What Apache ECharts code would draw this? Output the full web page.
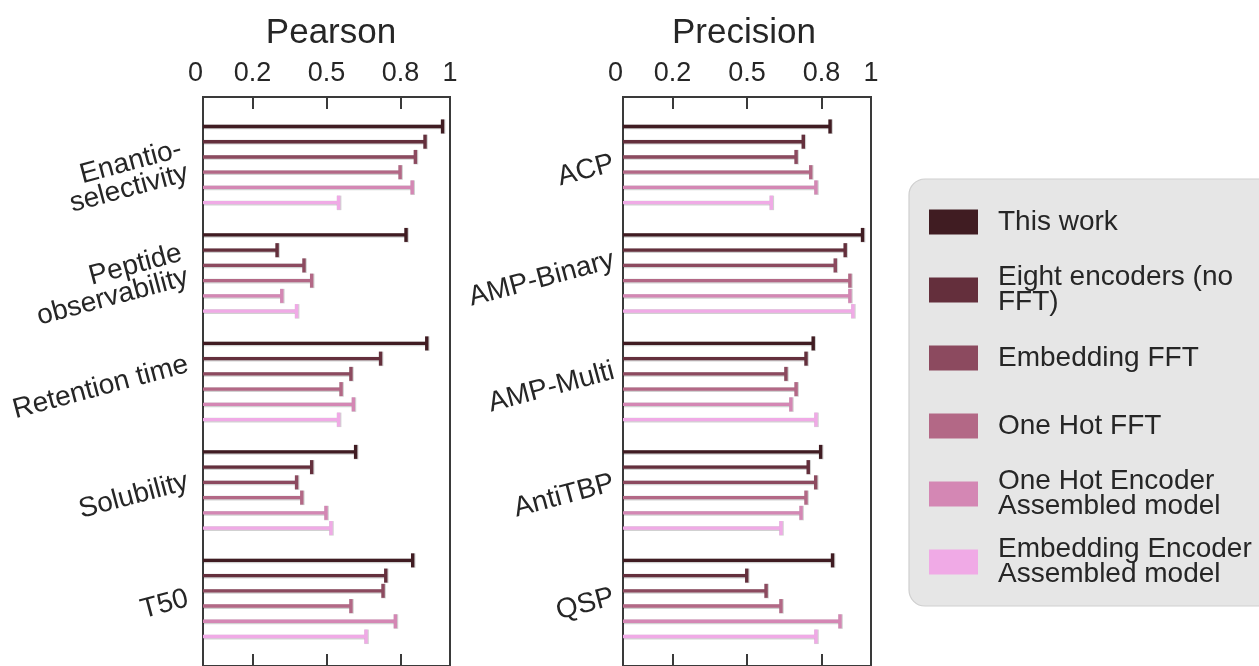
<!DOCTYPE html>
<html>
<head>
<meta charset="utf-8">
<script src="https://cdn.jsdelivr.net/npm/echarts@6/dist/echarts.min.js"></script>
<style>
  html, body { margin: 0; padding: 0; background: #ffffff; }
  #chart { width: 1259px; height: 666px; }
</style>
</head>
<body>
<div id="chart"></div>
<script>
// ---- data ----
const modelNames = [
  'This work',
  'Eight encoders (no\nFFT)',
  'Embedding FFT',
  'One Hot FFT',
  'One Hot Encoder\nAssembled model',
  'Embedding Encoder\nAssembled model'
];
const modelColors = ['#401c22', '#642f3c', '#8c4a5f', '#b36886', '#d487b4', '#f0aae6'];

const pearsonTasks = ['Enantio-\nselectivity', 'Peptide\nobservability', 'Retention time', 'Solubility', 'T50'];
const precisionTasks = ['ACP', 'AMP-Binary', 'AMP-Multi', 'AntiTBP', 'QSP'];

// Pearson correlation, one value per task
const pearsonThisWork  = [0.970, 0.822, 0.906, 0.618, 0.849];
const pearsonEightEnc  = [0.899, 0.300, 0.719, 0.440, 0.740];
const pearsonEmbFFT    = [0.860, 0.409, 0.599, 0.379, 0.729];
const pearsonOneHotFFT = [0.798, 0.440, 0.559, 0.400, 0.599];
const pearsonOneHotAsm = [0.847, 0.319, 0.609, 0.498, 0.779];
const pearsonEmbAsm    = [0.549, 0.379, 0.549, 0.518, 0.660];

// Precision, one value per task
const precisionThisWork  = [0.835, 0.966, 0.767, 0.797, 0.845];
const precisionEightEnc  = [0.727, 0.896, 0.738, 0.747, 0.499];
const precisionEmbFFT    = [0.698, 0.856, 0.657, 0.777, 0.577];
const precisionOneHotFFT = [0.757, 0.915, 0.698, 0.738, 0.637];
const precisionOneHotAsm = [0.778, 0.915, 0.677, 0.718, 0.875];
const precisionEmbAsm    = [0.598, 0.927, 0.778, 0.637, 0.778];

const xLabelValues = [0, 0.2, 0.5, 0.8, 1];
const xTickValues = [0.2, 0.5, 0.8];

// ---- layout / style ----
const FONT = '"Liberation Sans", Arial, Helvetica, sans-serif';
const TEXT_COLOR = '#262626';
const FRAME_COLOR = '#3a3a3a';
const LABEL_SIZE = 28;
const LABEL_LINE = 25;
const LABEL_ROTATE = 15;
const SLOT_STEP = 0.1405;   // spacing between models inside a task band (in task units)
const CAP_HALF = 7;
const BAR_WIDTH = 3.4;
const Y_PAD = 0.6227;       // extra room above the first and below the last task band

const panels = [
  { title: 'Pearson', left: 203, width: 247, titleX: 326, labelGap: 12, tasks: pearsonTasks,
    values: [pearsonThisWork, pearsonEightEnc, pearsonEmbFFT, pearsonOneHotFFT, pearsonOneHotAsm, pearsonEmbAsm] },
  { title: 'Precision', left: 623, width: 248, titleX: 739, labelGap: 6, tasks: precisionTasks,
    values: [precisionThisWork, precisionEightEnc, precisionEmbFFT, precisionOneHotFFT, precisionOneHotAsm, precisionEmbAsm] }
];

const measureCtx = document.createElement('canvas').getContext('2d');
measureCtx.font = LABEL_SIZE + 'px ' + FONT;
function textWidth(s) {
  return Math.max.apply(null, s.split('\n').map(function (l) { return measureCtx.measureText(l).width; }));
}

function barRenderer(slot) {
  return function (params, api) {
    const pos = api.value(1) + (slot - 2.5) * SLOT_STEP;
    const p0 = api.coord([0, pos]);
    const p1 = api.coord([api.value(0), pos]);
    const color = api.visual('color');
    return {
      type: 'group',
      children: [
        { type: 'line', shape: { x1: p0[0], y1: p0[1] + 0.5, x2: p1[0], y2: p1[1] + 0.5 },
          style: { stroke: 'rgba(0,0,0,0.18)', lineWidth: BAR_WIDTH + 1.4 } },
        { type: 'line', shape: { x1: p1[0] + 0.5, y1: p1[1] - CAP_HALF, x2: p1[0] + 0.5, y2: p1[1] + CAP_HALF + 0.5 },
          style: { stroke: 'rgba(0,0,0,0.18)', lineWidth: BAR_WIDTH + 1.2 } },
        { type: 'line', shape: { x1: p0[0], y1: p0[1], x2: p1[0], y2: p1[1] },
          style: { stroke: color, lineWidth: BAR_WIDTH } },
        { type: 'line', shape: { x1: p1[0], y1: p1[1] - CAP_HALF, x2: p1[0], y2: p1[1] + CAP_HALF },
          style: { stroke: color, lineWidth: BAR_WIDTH } }
      ]
    };
  };
}

// rotated task names, turned about their own centre and right-aligned against the frame
function taskLabelRenderer(tasks, gap) {
  return function (params, api) {
    const i = api.value(1);
    const text = tasks[i];
    const p = api.coord([0, i]);
    const lines = text.split('\n').length;
    const w = textWidth(text);
    const h = lines * LABEL_LINE;
    const th = LABEL_ROTATE * Math.PI / 180;
    const cx = p[0] - gap - (w / 2) * Math.cos(th) - (h / 2) * Math.sin(th);
    const cy = p[1] + (lines > 1 ? 12 : 6);
    return {
      type: 'text',
      x: cx + w / 2, y: cy,
      originX: -w / 2, originY: 0,
      rotation: th,
      style: {
        text: text, align: 'right', verticalAlign: 'middle',
        fontSize: LABEL_SIZE, fontFamily: FONT, fill: TEXT_COLOR, lineHeight: LABEL_LINE
      }
    };
  };
}

const grids = [], xAxes = [], yAxes = [], series = [], titles = [];
panels.forEach(function (pn, k) {
  grids.push({
    left: pn.left, width: pn.width, top: 97, height: 577,
    show: true, borderColor: FRAME_COLOR, borderWidth: 2, backgroundColor: 'transparent'
  });
  titles.push({
    text: pn.title, left: pn.titleX, top: 11, textAlign: 'center',
    textStyle: { fontSize: 35, fontWeight: 'normal', color: TEXT_COLOR, fontFamily: FONT }
  });
  // top axis with labels, bottom axis with ticks only
  xAxes.push({
    type: 'value', gridIndex: k, position: 'top', min: 0, max: 1,
    axisLine: { show: false, onZero: false }, splitLine: { show: false },
    axisTick: { show: true, inside: true, length: 12, customValues: xTickValues,
      lineStyle: { color: FRAME_COLOR, width: 2 } },
    axisLabel: { show: true, customValues: xLabelValues, margin: 10,
      fontSize: 27, color: TEXT_COLOR, fontFamily: FONT,
      alignMinLabel: 'right', alignMaxLabel: 'center',
      formatter: function (v) { return String(v); } }
  });
  xAxes.push({
    type: 'value', gridIndex: k, position: 'bottom', min: 0, max: 1,
    axisLine: { show: false, onZero: false }, splitLine: { show: false },
    axisTick: { show: true, inside: true, length: 12, customValues: xTickValues,
      lineStyle: { color: FRAME_COLOR, width: 2 } },
    axisLabel: { show: false }
  });
  yAxes.push({
    type: 'value', gridIndex: k, inverse: true,
    min: -Y_PAD, max: pn.tasks.length - 1 + Y_PAD,
    axisLine: { show: false }, axisTick: { show: false },
    axisLabel: { show: false }, splitLine: { show: false }
  });
  pn.values.forEach(function (vals, j) {
    series.push({
      type: 'custom', name: modelNames[j],
      xAxisIndex: 2 * k, yAxisIndex: k,
      itemStyle: { color: modelColors[j] },
      encode: { x: 0, y: 1 },
      clip: false,
      renderItem: barRenderer(j),
      data: vals.map(function (v, i) { return [v, i]; })
    });
  });
  series.push({
    type: 'custom', name: pn.title + ' tasks',
    xAxisIndex: 2 * k, yAxisIndex: k,
    encode: { x: 0, y: 1 }, clip: false, silent: true,
    renderItem: taskLabelRenderer(pn.tasks, pn.labelGap),
    data: pn.tasks.map(function (t, i) { return [0, i]; })
  });
});

// one legend block per model so the rows stay evenly spaced
const LEGEND_FIRST_CENTER = 220.5, LEGEND_STEP = 68, SWATCH_H = 25;
const legends = modelNames.map(function (name, j) {
  const lines = name.split('\n').length;
  const boxH = Math.max(SWATCH_H, lines * LABEL_LINE);
  return {
    data: [name], orient: 'vertical', left: 929,
    top: LEGEND_FIRST_CENTER + j * LEGEND_STEP - boxH / 2,
    padding: 0, icon: 'rect', itemWidth: 49, itemHeight: SWATCH_H,
    selectedMode: false,
    textStyle: { fontSize: 28, lineHeight: LABEL_LINE, color: TEXT_COLOR, fontFamily: FONT, padding: [0, 0, 0, 15] }
  };
});

const chart = echarts.init(document.getElementById('chart'), null, { renderer: 'canvas' });
chart.setOption({
  animation: false,
  color: modelColors,
  title: titles,
  grid: grids,
  xAxis: xAxes,
  yAxis: yAxes,
  legend: legends,
  graphic: [{
    type: 'rect', z: 0, silent: true,
    shape: { x: 909, y: 179, width: 420, height: 427, r: 16 },
    style: { fill: '#e6e6e6', stroke: '#cfcfcf', lineWidth: 1.2 }
  }],
  series: series
});
</script>
</body>
</html>
